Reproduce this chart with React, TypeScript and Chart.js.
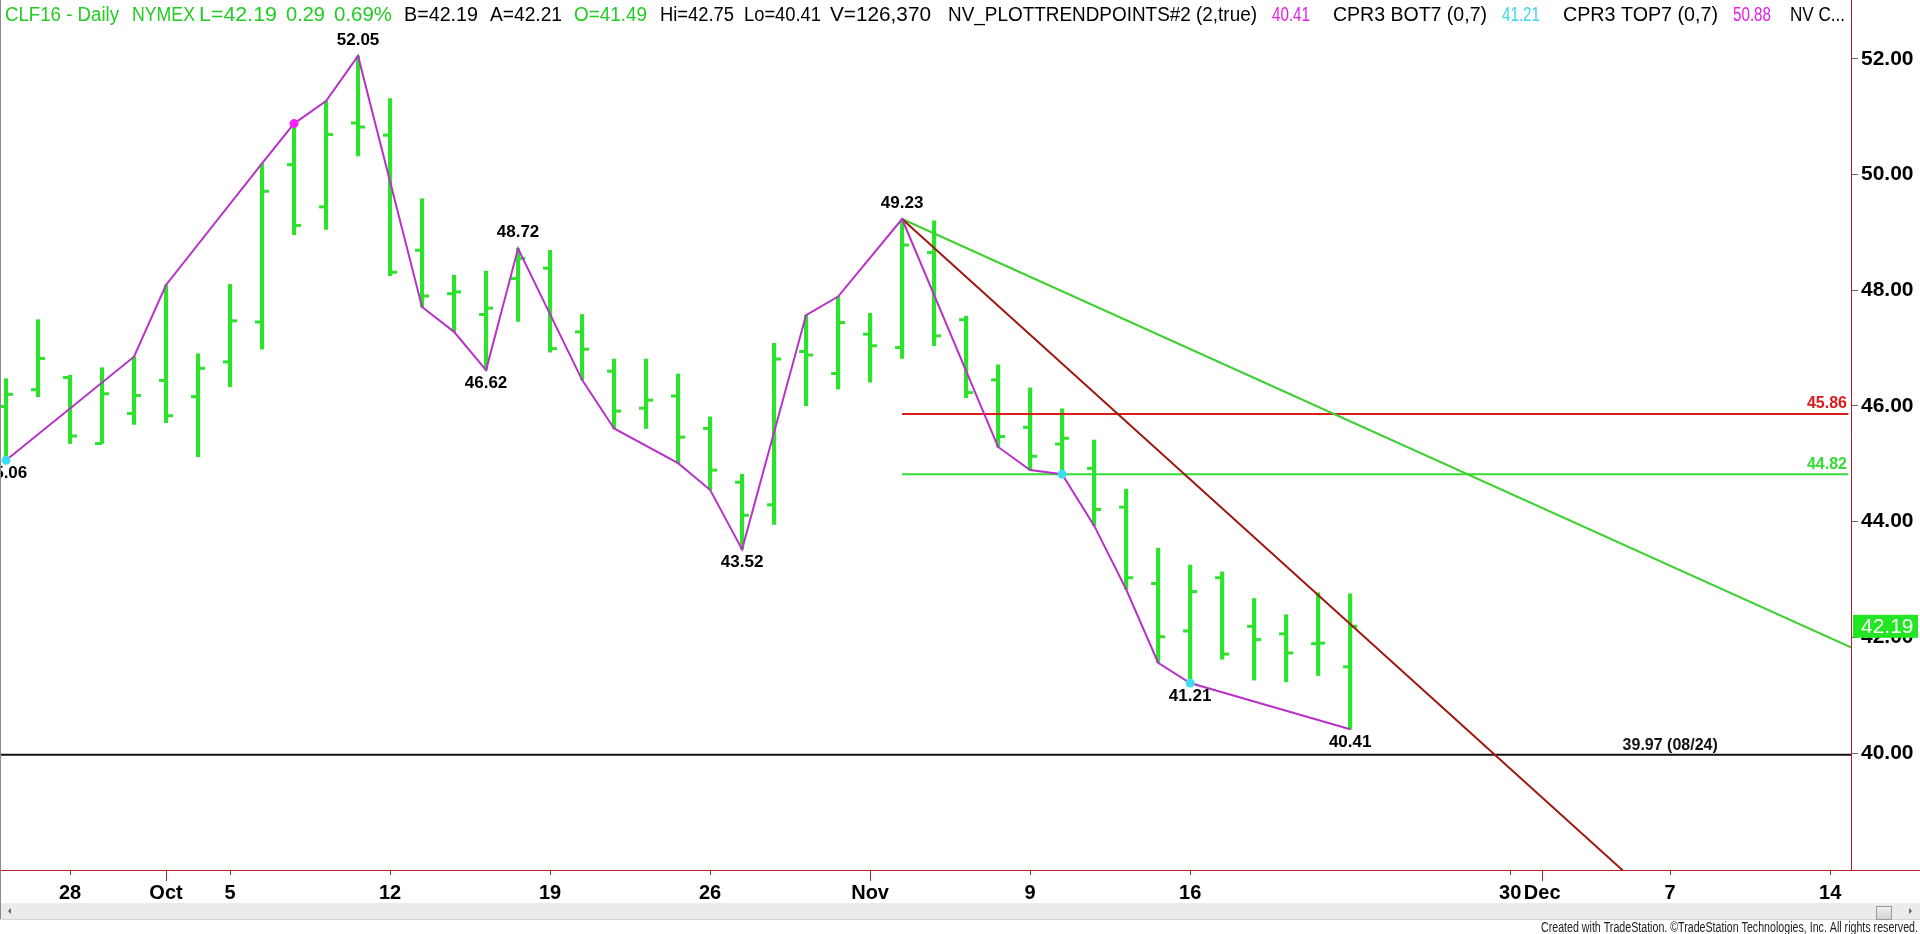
import React, { useEffect, useRef } from 'react';
import { Chart, registerables } from 'chart.js';

Chart.register(...registerables);

// ---------- data ----------
const TRADING_DAYS = [
  '09/24', '09/25', '09/28', '09/29', '09/30', '10/01', '10/02', '10/05', '10/06', '10/07',
  '10/08', '10/09', '10/12', '10/13', '10/14', '10/15', '10/16', '10/19', '10/20', '10/21',
  '10/22', '10/23', '10/26', '10/27', '10/28', '10/29', '10/30', '11/02', '11/03', '11/04',
  '11/05', '11/06', '11/09', '11/10', '11/11', '11/12', '11/13', '11/16', '11/17', '11/18',
  '11/19', '11/20', '11/23',
];
const OPEN = [
  45.99, 46.28, 46.49, 45.35, 45.87, 46.44, 46.16, 46.76, 47.45, 50.17,
  49.44, 50.89, 50.68, 48.69, 47.94, 47.58, 48.2, 48.38, 47.28, 46.6,
  45.96, 46.17, 45.61, 44.68, 44.29, 46.94, 46.56, 47.24, 47.01, 48.65,
  47.49, 46.45, 45.63, 45.34, 44.92, 44.25, 42.93, 42.11, 43.03, 42.19,
  42.06, 41.89, 41.49,
];
const HIGH = [
  46.47, 47.49, 46.53, 46.66, 46.85, 48.09, 46.9, 48.1, 50.19, 50.88,
  51.27, 52.05, 51.31, 49.58, 48.26, 48.33, 48.72, 48.69, 47.58, 46.81,
  46.81, 46.55, 45.81, 44.82, 47.08, 47.57, 47.89, 47.6, 49.23, 49.2,
  47.55, 46.71, 46.31, 45.95, 45.41, 44.56, 43.54, 43.25, 43.13, 42.67,
  42.39, 42.77, 42.75,
];
const LOW = [
  45.06, 46.16, 45.35, 45.35, 45.68, 45.71, 45.12, 46.33, 46.98, 48.96,
  49.05, 50.32, 48.25, 47.71, 47.28, 46.62, 47.46, 46.93, 46.45, 45.61,
  45.61, 45.01, 44.55, 43.52, 43.95, 46.0, 46.29, 46.41, 46.82, 47.04,
  46.14, 45.29, 44.89, 44.82, 43.93, 42.83, 41.56, 41.21, 41.62, 41.26,
  41.23, 41.34, 40.41,
];
const CLOSE = [
  46.2, 46.82, 45.48, 46.21, 46.18, 45.83, 46.65, 47.47, 49.71, 49.12,
  50.69, 50.82, 48.31, 47.9, 47.97, 47.69, 48.55, 46.99, 46.98, 45.91,
  46.1, 45.46, 44.89, 44.11, 46.81, 46.88, 47.44, 47.04, 48.78, 47.21,
  46.23, 45.47, 45.13, 45.44, 44.21, 43.03, 42.01, 42.79, 41.71, 41.96,
  41.73, 41.9, 42.19,
];

// x-axis ticks (trading-day index) and their labels
const TICK_POS = [2, 5, 7, 12, 17, 22, 27, 32, 37, 47, 48, 52, 57];
const TICK_LABELS = ['28', 'Oct', '5', '12', '19', '26', 'Nov', '9', '16', '30', 'Dec', '7', '14'];
const MONTH_LABELS = ['Oct', 'Nov', 'Dec'];
const Y_TICKS = [40, 42, 44, 46, 48, 50, 52];

// swing (trend points) line
const SWING_X = [0, 4, 5, 8, 9, 10, 11, 13, 14, 15, 16, 18, 19, 21, 22, 23, 25, 26, 28, 31, 32, 33, 34, 35, 36, 37, 42];
const SWING_Y = [45.06, 46.85, 48.09, 50.19, 50.88, 51.27, 52.05, 47.71, 47.28, 46.62, 48.72, 46.45, 45.61, 45.01, 44.55, 43.52, 47.57, 47.89, 49.23, 45.29, 44.89, 44.82, 43.93, 42.83, 41.56, 41.21, 40.41];

// marker dots
const DOT_X = [0, 9, 33, 37];
const DOT_Y = [45.06, 50.88, 44.82, 41.21];
const DOT_KIND = ['cyan', 'magenta', 'cyan', 'cyan'];

// pivot value labels
const PIVOT_X = [0, 11, 15, 16, 23, 28, 37, 42];
const PIVOT_Y = [45.06, 52.05, 46.62, 48.72, 43.52, 49.23, 41.21, 40.41];
const PIVOT_SIDE = ['below', 'above', 'below', 'above', 'below', 'above', 'below', 'below'];

// trendlines (two anchor points each)
const TREND_GREEN_X = [28, 60];
const TREND_GREEN_Y = [49.23, 41.24];
const TREND_RED_X = [28, 52];
const TREND_RED_Y = [49.23, 37.23];

// horizontal levels
const LEVEL_START = 28;
const LEVEL_RED = 45.86;
const LEVEL_GREEN = 44.82;
const OLD_LOW = 39.97;
const OLD_LOW_LABEL = '39.97 (08/24)';
const OLD_LOW_LABEL_X = 52;
const LAST_PRICE = 42.19;

const X_MIN = -0.1875;
const X_MAX = 57.65;
const Y_MIN = 37.978;
const Y_MAX = 53.016;

// ---------- styles ----------
const BAR_GREEN = '#2de22d';
const SWING_COLOR = '#b932c8';
const TREND_GREEN_COLOR = '#3dd030';
const TREND_RED_COLOR = '#a0170f';
const LEVEL_RED_COLOR = '#dc1b1b';
const LEVEL_GREEN_COLOR = '#35dc35';
const AXIS_RED = '#b3202c';
const MAGENTA = '#ff1eff';
const CYAN = '#3ddcef';
const HEAD_GREEN = '#22cc22';
const TICK_OFFSET = 0.11;
const FONT = '"Liberation Sans", Arial, sans-serif';

const HEADER: [number, number, string, string][] = [
  [5, 119, 'CLF16 - Daily', HEAD_GREEN],
  [132, 195, 'NYMEX', HEAD_GREEN],
  [199, 277, 'L=42.19', HEAD_GREEN],
  [286, 325, '0.29', HEAD_GREEN],
  [334, 392, '0.69%', HEAD_GREEN],
  [404, 478, 'B=42.19', '#000'],
  [490, 562, 'A=42.21', '#000'],
  [574, 647, 'O=41.49', HEAD_GREEN],
  [660, 734, 'Hi=42.75', '#000'],
  [744, 821, 'Lo=40.41', '#000'],
  [830, 931, 'V=126,370', '#000'],
  [948, 1257, 'NV_PLOTTRENDPOINTS#2 (2,true)', '#000'],
  [1272, 1310, '40.41', '#e21ee2'],
  [1333, 1487, 'CPR3 BOT7 (0,7)', '#000'],
  [1502, 1540, '41.21', '#3cd8e8'],
  [1563, 1718, 'CPR3 TOP7 (0,7)', '#000'],
  [1733, 1771, '50.88', '#e21ee2'],
  [1790, 1845, 'NV C...', '#000'],
];

function fitText(ctx: CanvasRenderingContext2D, text: string, x1: number, x2: number, y: number) {
  const w = ctx.measureText(text).width;
  ctx.save();
  ctx.translate(x1, y);
  ctx.scale((x2 - x1) / w, 1);
  ctx.fillText(text, 0, 0);
  ctx.restore();
}

const overlay = {
  id: 'overlay',
  afterDatasetsDraw(chart: any) {
    const { ctx, scales, chartArea } = chart;
    const xs = scales.x;
    const ys = scales.y;
    ctx.save();
    // pivot labels
    ctx.font = `bold 17px ${FONT}`;
    ctx.fillStyle = '#000';
    ctx.textAlign = 'center';
    ctx.textBaseline = 'middle';
    PIVOT_X.forEach((xv, i) => {
      const px = xs.getPixelForValue(xv);
      const py = ys.getPixelForValue(PIVOT_Y[i]);
      const dy = PIVOT_SIDE[i] === 'above' ? -16 : 13;
      ctx.fillText(PIVOT_Y[i].toFixed(2), px, py + dy);
    });
    // level labels
    ctx.font = `bold 16px ${FONT}`;
    ctx.textAlign = 'right';
    ctx.fillStyle = LEVEL_RED_COLOR;
    ctx.fillText(LEVEL_RED.toFixed(2), chartArea.right - 4, ys.getPixelForValue(LEVEL_RED) - 10);
    ctx.fillStyle = LEVEL_GREEN_COLOR;
    ctx.fillText(LEVEL_GREEN.toFixed(2), chartArea.right - 4, ys.getPixelForValue(LEVEL_GREEN) - 10);
    ctx.textAlign = 'center';
    ctx.fillStyle = '#111';
    ctx.fillText(OLD_LOW_LABEL, xs.getPixelForValue(OLD_LOW_LABEL_X), ys.getPixelForValue(OLD_LOW) - 9);
    ctx.restore();
  },
  afterDraw(chart: any) {
    const { ctx, scales, chartArea, width } = chart;
    const xs = scales.x;
    const ys = scales.y;
    ctx.save();
    // extend x axis line to the right edge
    ctx.strokeStyle = AXIS_RED;
    ctx.lineWidth = 1;
    ctx.beginPath();
    ctx.moveTo(chartArea.right, chartArea.bottom + 0.5);
    ctx.lineTo(width, chartArea.bottom + 0.5);
    ctx.stroke();
    // longer month ticks
    TICK_POS.forEach((v, i) => {
      if (MONTH_LABELS.includes(TICK_LABELS[i])) {
        const px = Math.round(xs.getPixelForValue(v)) + 0.5;
        ctx.beginPath();
        ctx.moveTo(px, chartArea.bottom);
        ctx.lineTo(px, chartArea.bottom + 11);
        ctx.stroke();
      }
    });
    // left border
    ctx.strokeStyle = '#8a8a8a';
    ctx.beginPath();
    ctx.moveTo(0.5, 0);
    ctx.lineTo(0.5, 919);
    ctx.stroke();
    // last price box
    const py = ys.getPixelForValue(LAST_PRICE);
    ctx.fillStyle = '#22e622';
    ctx.fillRect(chartArea.right + 2, py - 11.5, width - chartArea.right - 4, 23);
    ctx.fillStyle = '#fff';
    ctx.font = `21px ${FONT}`;
    ctx.textAlign = 'left';
    ctx.textBaseline = 'middle';
    ctx.fillText(LAST_PRICE.toFixed(2), chartArea.right + 10, py + 1);
    // header
    ctx.font = `20px ${FONT}`;
    ctx.textBaseline = 'middle';
    HEADER.forEach(([x1, x2, t, c]) => {
      ctx.fillStyle = c;
      fitText(ctx, t, x1, x2, 15);
    });
    // scrollbar
    ctx.fillStyle = '#ebebeb';
    ctx.fillRect(1, 903, width - 1, 16);
    ctx.strokeStyle = '#d6d6d6';
    ctx.beginPath();
    ctx.moveTo(0, 919.5);
    ctx.lineTo(width, 919.5);
    ctx.stroke();
    ctx.fillStyle = '#666';
    ctx.beginPath();
    ctx.moveTo(8, 911);
    ctx.lineTo(11, 908);
    ctx.lineTo(11, 914);
    ctx.closePath();
    ctx.fill();
    ctx.beginPath();
    ctx.moveTo(1912, 911);
    ctx.lineTo(1909, 908);
    ctx.lineTo(1909, 914);
    ctx.closePath();
    ctx.fill();
    const g = ctx.createLinearGradient(0, 905, 0, 919);
    g.addColorStop(0, '#f4f4f4');
    g.addColorStop(1, '#d2d2d2');
    ctx.fillStyle = g;
    ctx.fillRect(1876, 906, 15, 13);
    ctx.strokeStyle = '#9a9a9a';
    ctx.strokeRect(1876.5, 906.5, 15, 13);
    // footer
    ctx.fillStyle = '#222';
    ctx.font = `14px ${FONT}`;
    ctx.textBaseline = 'middle';
    fitText(ctx, 'Created with TradeStation. \u00A9TradeStation Technologies, Inc. All rights reserved.', 1541, 1918, 928);
    ctx.restore();
  },
};

export default function App() {
  const ref = useRef<HTMLCanvasElement | null>(null);

  useEffect(() => {
    document.body.style.margin = '0';
    document.body.style.overflow = 'hidden';
    const canvas = ref.current;
    if (!canvas) return;
    Chart.defaults.font.family = FONT;

    const pts = (xa: number[], ya: number[]) => xa.map((x, i) => ({ x, y: ya[i] }));
    const lineDs = (data: any[], color: string, width: number, order: number) => ({
      type: 'line',
      data,
      borderColor: color,
      borderWidth: width,
      pointRadius: 0,
      fill: false,
      tension: 0,
      order,
    });

    const chart = new Chart(canvas, {
      type: 'bar',
      data: {
        datasets: [
          {
            type: 'bar',
            data: TRADING_DAYS.map((_, i) => ({ x: i, y: [LOW[i], HIGH[i]] })),
            backgroundColor: BAR_GREEN,
            borderWidth: 0,
            barThickness: 3.5,
            order: 20,
          } as any,
          {
            type: 'line',
            showLine: false,
            data: TRADING_DAYS.map((_, i) => ({ x: i - TICK_OFFSET, y: OPEN[i] })),
            pointStyle: 'line',
            pointRadius: 3.5,
            pointBorderWidth: 3,
            pointBorderColor: BAR_GREEN,
            pointBackgroundColor: BAR_GREEN,
            order: 19,
          } as any,
          {
            type: 'line',
            showLine: false,
            data: TRADING_DAYS.map((_, i) => ({ x: i + TICK_OFFSET, y: CLOSE[i] })),
            pointStyle: 'line',
            pointRadius: 3.5,
            pointBorderWidth: 3,
            pointBorderColor: BAR_GREEN,
            pointBackgroundColor: BAR_GREEN,
            order: 18,
          } as any,
          lineDs([{ x: X_MIN, y: OLD_LOW }, { x: X_MAX, y: OLD_LOW }], '#111', 2, 10) as any,
          lineDs([{ x: LEVEL_START, y: LEVEL_RED }, { x: X_MAX - 0.08, y: LEVEL_RED }], LEVEL_RED_COLOR, 2, 9) as any,
          lineDs([{ x: LEVEL_START, y: LEVEL_GREEN }, { x: X_MAX - 0.08, y: LEVEL_GREEN }], LEVEL_GREEN_COLOR, 2, 8) as any,
          lineDs(pts(TREND_GREEN_X, TREND_GREEN_Y), TREND_GREEN_COLOR, 2, 7) as any,
          lineDs(pts(TREND_RED_X, TREND_RED_Y), TREND_RED_COLOR, 2, 6) as any,
          lineDs(pts(SWING_X, SWING_Y), SWING_COLOR, 2, 5) as any,
          {
            type: 'line',
            showLine: false,
            data: pts(DOT_X, DOT_Y),
            pointRadius: 4.5,
            pointBorderWidth: 0,
            pointBackgroundColor: DOT_KIND.map((k) => (k === 'cyan' ? CYAN : MAGENTA)),
            order: 1,
          } as any,
        ],
      },
      options: {
        responsive: false,
        devicePixelRatio: 1,
        animation: false,
        events: [],
        layout: { padding: 0, autoPadding: false },
        plugins: {
          legend: { display: false },
          tooltip: { enabled: false },
          title: { display: false },
        },
        scales: {
          x: {
            type: 'linear',
            position: 'bottom',
            min: X_MIN,
            max: X_MAX,
            offset: false,
            afterBuildTicks: (s: any) => {
              s.ticks = TICK_POS.map((v) => ({ value: v }));
            },
            afterFit: (s: any) => {
              s.height = 64;
              s.paddingLeft = 0;
              s.paddingRight = 0;
            },
            grid: {
              offset: false,
              drawOnChartArea: false,
              drawTicks: true,
              tickLength: 5,
              color: AXIS_RED,
              lineWidth: 1,
            },
            border: { display: true, color: AXIS_RED, width: 1 },
            ticks: {
              autoSkip: false,
              maxRotation: 0,
              minRotation: 0,
              padding: 6,
              color: '#000',
              font: { family: FONT, size: 20, weight: 'bold' },
              callback: (v: any) => {
                const i = TICK_POS.indexOf(Number(v));
                return i >= 0 ? TICK_LABELS[i] : '';
              },
            },
          },
          y: {
            type: 'linear',
            position: 'right',
            min: Y_MIN,
            max: Y_MAX,
            afterBuildTicks: (s: any) => {
              s.ticks = Y_TICKS.map((v) => ({ value: v }));
            },
            afterFit: (s: any) => {
              s.width = 69;
              s.paddingTop = 0;
              s.paddingBottom = 0;
            },
            grid: {
              drawOnChartArea: false,
              drawTicks: true,
              tickLength: 7,
              color: '#666',
              lineWidth: 1,
            },
            border: { display: true, color: AXIS_RED, width: 1 },
            ticks: {
              padding: 3,
              color: '#000',
              font: { family: FONT, size: 21, weight: 'bold' },
              callback: (v: any) => Number(v).toFixed(2),
            },
          },
        },
      } as any,
      plugins: [overlay],
    });

    return () => {
      chart.destroy();
    };
  }, []);

  return (
    <div style={{ width: 1920, height: 934, background: '#fff' }}>
      <canvas ref={ref} width={1920} height={934} style={{ display: 'block', width: 1920, height: 934 }} />
    </div>
  );
}
